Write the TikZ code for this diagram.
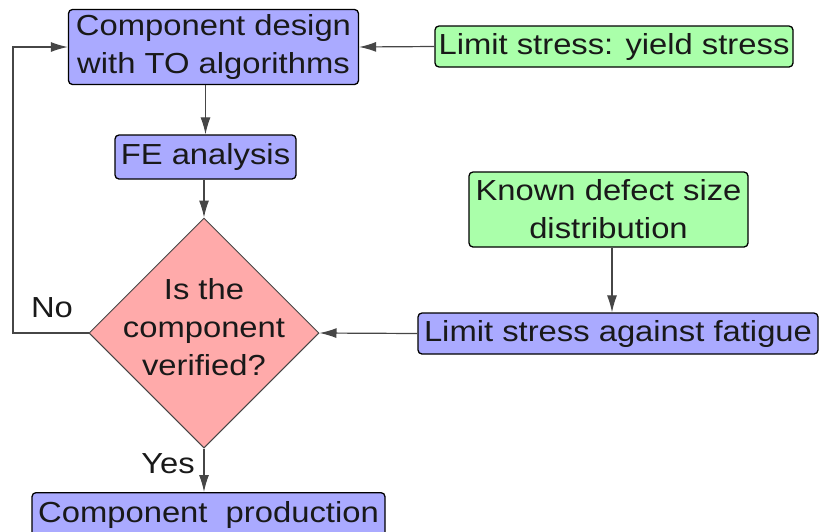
\documentclass[tikz,border=0pt]{standalone}
\usepackage{fontspec}
\setmainfont{Liberation Sans}[FakeStretch=1.13]
\usetikzlibrary{arrows.meta,shapes.geometric}
\definecolor{boxblue}{RGB}{170,170,255}
\definecolor{boxgreen}{RGB}{170,255,170}
\definecolor{boxred}{RGB}{255,170,170}
\definecolor{linegray}{RGB}{70,70,70}
\begin{document}
\begin{tikzpicture}[x=1pt,y=-1pt,
  every node/.style={font=\fontsize{29}{38}\selectfont, text=black!90},
  box/.style={draw=black, line width=1.3pt, rounded corners=4pt, inner sep=0pt, align=center},
  bluebox/.style={box, fill=boxblue},
  greenbox/.style={box, fill=boxgreen},
  arr/.style={draw=linegray, line width=1.2pt, -{Latex[length=17pt,width=10pt]}},
  lbl/.style={inner sep=0pt}
]
\useasboundingbox (0,0) rectangle (819,531);
\node[bluebox, minimum width=290pt, minimum height=75pt] (design) at (213.5,47) {Component design\\with TO algorithms};
\node[bluebox, minimum width=181pt, minimum height=44pt] (fe) at (205.5,157) {FE analysis};
\node[greenbox, minimum width=358pt, minimum height=41pt] (yield) at (614,46.5) {Limit stress: yield stress};
\node[greenbox, minimum width=279pt, minimum height=75pt] (defect) at (608.5,209.5) {Known defect size\\distribution};
\node[bluebox, minimum width=400pt, minimum height=41pt] (fatigue) at (618,333.5) {Limit stress against fatigue};
\node[draw=linegray, line width=1pt, fill=boxred, diamond, inner sep=0pt, minimum width=230pt, minimum height=230pt] (dia) at (204,333) {};
\node[lbl, align=center] (diatext) at (204,327) {Is the\\component\\verified?};
\node[bluebox, anchor=north, minimum width=353pt, inner ysep=8pt, text height=22pt, text depth=30pt] (prod) at (208.5,492) {Component~~production};
\node[lbl] (no) at (52,308) {No};
\node[lbl] (yes) at (168,464) {Yes};
\coordinate (fb) at (13,333);
\draw[arr] (fe.north |- design.south) -- (fe.north);
\draw[arr] (fe.south -| dia.north) -- (dia.north);
\draw[arr] (dia.south) -- (dia.south |- prod.north);
\draw[arr] (yield.west) -- (design.east);
\draw[arr] (defect.south -| 612,0) -- (612,0 |- fatigue.north);
\draw[arr] (fatigue.west) -- (dia.east);
\draw[arr] (dia.west) -- (fb) |- (design.west);
\end{tikzpicture}
\end{document}
